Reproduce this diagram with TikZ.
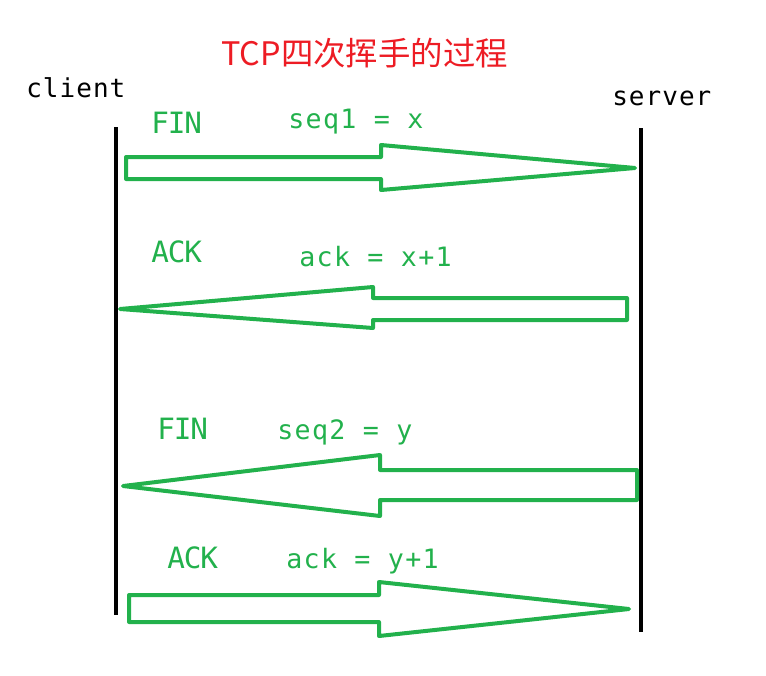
\documentclass[tikz,border=0pt]{standalone}
\usepackage{fontspec}
\newfontfamily\cjk{Noto Sans CJK SC}
\newfontfamily\monoA[LetterSpace=4]{DejaVu Sans Mono}
\newfontfamily\monoB[LetterSpace=-4]{DejaVu Sans Mono}
\newfontfamily\monoC[LetterSpace=5]{DejaVu Sans Mono}
\definecolor{pgreen}{HTML}{22B14C}
\definecolor{pred}{HTML}{ED1C24}
\begin{document}
\begin{tikzpicture}[x=0.75pt,y=-0.75pt,
  lifeline/.style={line width=3pt,black},
  bigarrow/.style={line width=3pt,pgreen,line join=round},
  endname/.style={anchor=base west,inner sep=0pt,font=\monoA\fontsize{19.5}{22}\selectfont},
  flag/.style={anchor=base west,inner sep=0pt,text=pgreen,font=\monoB\fontsize{22}{26}\selectfont},
  val/.style={anchor=base west,inner sep=0pt,text=pgreen,font=\monoC\fontsize{20}{24}\selectfont},
  titlestyle/.style={anchor=base west,inner sep=0pt,text=pred,font=\cjk\fontsize{24.3}{30}\selectfont}]
\useasboundingbox (0,0) rectangle (766,675);
% title and ends
\node[titlestyle] (title) at (221,65) {TCP四次挥手的过程};
\node[endname] (client) at (26,97) {client};
\node[endname] (server) at (612,105) {server};
% lifelines
\coordinate (c1) at (116,127); \coordinate (c2) at (116,615);
\coordinate (s1) at (641,128); \coordinate (s2) at (641,632);
\draw[lifeline] (c1) -- (c2);
\draw[lifeline] (s1) -- (s2);
% arrow 1: client -> server
\draw[bigarrow] (126,157) -- (381,157) -- (381,145) -- (635,168) -- (381,190) -- (381,179) -- (126,179) -- cycle;
\node[flag] (fin1) at (151,133) {FIN};
\node[val] (seq1) at (288,128) {seq1 = x};
% arrow 2: server -> client
\draw[bigarrow] (627,298) -- (373,298) -- (373,287) -- (120,309) -- (373,328) -- (373,320) -- (627,320) -- cycle;
\node[flag] (ack1) at (151,262) {ACK};
\node[val] (ackv1) at (299,266) {ack = x+1};
% arrow 3: server -> client
\draw[bigarrow] (637,470) -- (380,470) -- (380,455) -- (123,486) -- (380,516) -- (380,500) -- (637,500) -- cycle;
\node[flag] (fin2) at (157,439) {FIN};
\node[val] (seq2) at (277,439) {seq2 = y};
% arrow 4: client -> server
\draw[bigarrow] (129,595) -- (379,595) -- (379,582) -- (629,609) -- (379,636) -- (379,622) -- (129,622) -- cycle;
\node[flag] (ack2) at (167,568) {ACK};
\node[val] (ackv2) at (286,568) {ack = y+1};
\end{tikzpicture}
\end{document}
